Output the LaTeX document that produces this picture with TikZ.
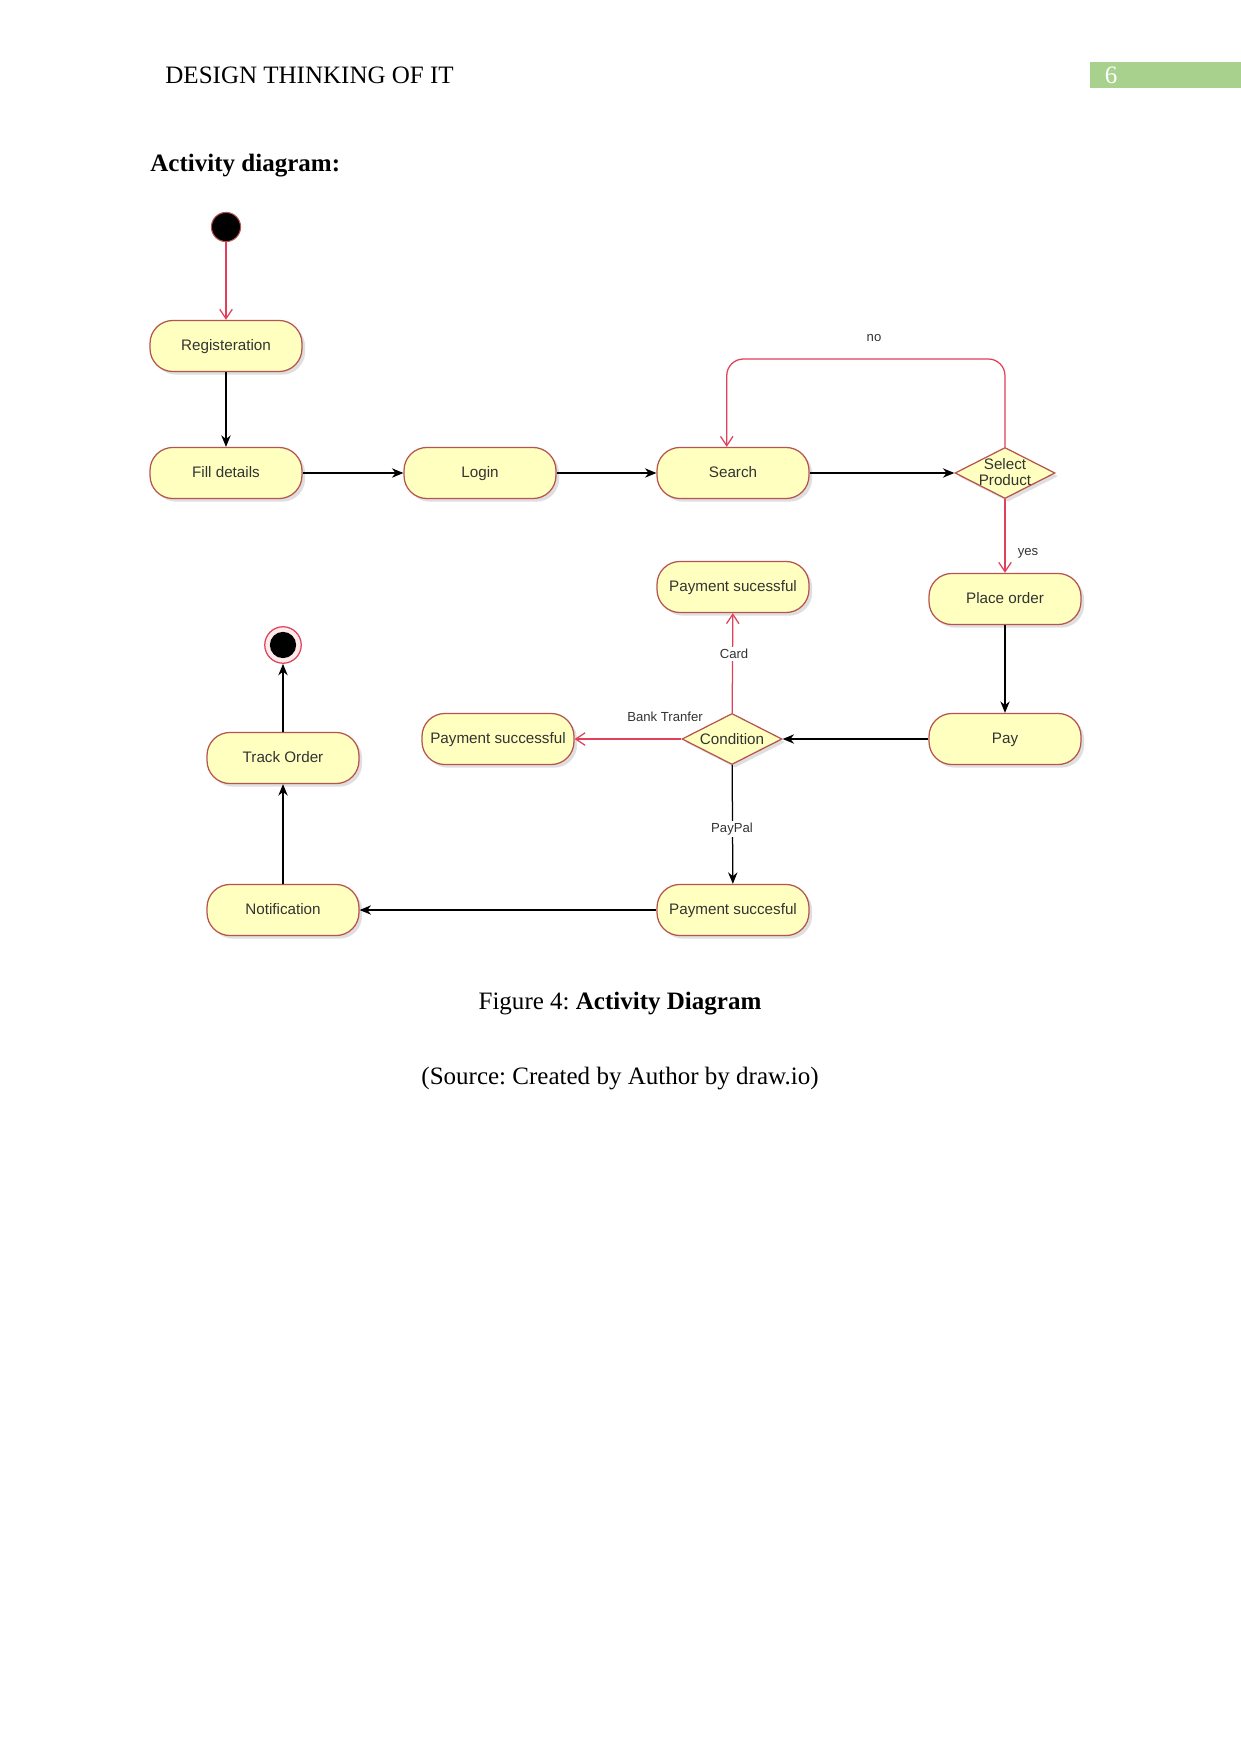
\documentclass[tikz,border=0pt]{standalone}
\usepackage{fontspec}
\setmainfont{Liberation Serif}
\newfontfamily\diafont{Liberation Sans}
\usetikzlibrary{shapes.geometric,arrows.meta,shadows}
\definecolor{actfill}{HTML}{FFFFC0}
\definecolor{actdraw}{HTML}{B85450}
\definecolor{redline}{HTML}{E0405A}
\definecolor{hdrgreen}{HTML}{A9D18E}
\definecolor{txt}{HTML}{333333}
\frenchspacing
\begin{document}
\begin{tikzpicture}[x=0.4797pt,y=-0.4797pt,
  shd/.style={drop shadow={shadow xshift=1.5pt, shadow yshift=-1.5pt, opacity=0.25, fill=gray}},
  act/.style={draw=actdraw, fill=actfill, rounded corners=11pt, minimum width=72.9pt,
    minimum height=24.5pt, font=\diafont\fontsize{7.3}{8.5}\selectfont, text=txt,
    text height=5.4pt, text depth=1.5pt,
    line width=0.6pt, shd},
  dec/.style={diamond, draw=actdraw, fill=actfill, minimum width=48pt, minimum height=24.5pt,
    inner sep=0pt, aspect=2, font=\diafont\fontsize{7.3}{8.3}\selectfont, text=txt,
    line width=0.6pt, shd},
  blk/.style={draw=black, line width=0.6pt, -{Stealth[length=5.5pt,width=4.5pt]}},
  redarr/.style={draw=redline, line width=0.6pt, -{Straight Barb[length=4.5pt,width=6pt]}},
  lbl/.style={fill=white, font=\diafont\fontsize{6.3}{7}\selectfont, text=txt, inner sep=1pt},
  startnode/.style={circle, fill=black, draw=actdraw, line width=0.5pt, minimum size=14pt, inner sep=0pt},
  endnode/.style={circle, fill=red!8, draw=redline, line width=0.6pt, minimum size=17.5pt, inner sep=0pt,
    path picture={\fill[black] (path picture bounding box.center) circle (6.3pt);}}
]
\useasboundingbox (0,0) rectangle (1241,1754);
\fill[white] (0,0) rectangle (1241,1754);

% page header
\node[anchor=west, font=\fontsize{12}{14}\selectfont, inner sep=0pt] (hdr) at (165,75) {DESIGN THINKING OF IT};
\node[anchor=north west, fill=hdrgreen, minimum width=72.4pt, minimum height=12.5pt, inner sep=0pt] (pgbox) at (1090,62) {};
\node[text=white, font=\fontsize{12}{14}\selectfont, inner sep=0pt] (pgnum) at (1111,75) {6};
\node[anchor=west, font=\bfseries\fontsize{12}{14}\selectfont, inner sep=0pt] (title) at (150,166) {Activity diagram:};

% nodes
\node[startnode] (start) at (226,227) {};
\node[act] (reg) at (226,346) {Registeration};
\node[act] (fill) at (226,473) {Fill details};
\node[act] (login) at (480,473) {Login};
\node[act] (search) at (733,473) {Search};
\node[dec] (sp) at (1005,473) {\smash{\makebox[0pt]{\raisebox{-2.2pt}{\begin{tabular}{@{}c@{}}Select\\[-0.5pt]Product\end{tabular}}}}};
\node[act] (place) at (1005,599) {Place order};
\node[act] (pay) at (1005,739) {Pay};
\node[dec] (cond) at (732,739) {\smash{\makebox[0pt]{\raisebox{-2.4pt}{Condition}}}};
\node[act] (pcard) at (733,587) {Payment sucessful};
\node[act] (pbank) at (498,739) {Payment successful};
\node[act] (ppal) at (733,910) {Payment succesful};
\node[act] (notif) at (283,910) {Notification};
\node[act] (track) at (283,758) {Track Order};
\node[endnode] (end) at (283,645) {};

% connectors
\draw[redarr] (start) -- (reg);
\draw[blk] (reg) -- (fill);
\draw[blk] (fill) -- (login);
\draw[blk] (login) -- (search);
\draw[blk] (search) -- (sp);
\coordinate (nl) at (866,359);
\draw[redarr, rounded corners=8pt] (sp.north) |- (nl) -| ([xshift=-3pt]search.north);
\node[lbl] (nolbl) at (874,338) {no};
\draw[redarr] (sp) -- (place);
\node[lbl] (yeslbl) at (1028,553) {yes};
\draw[blk] (place) -- (pay);
\draw[blk] (pay) -- (cond);
\draw[redarr] (cond) -- (pcard);
\node[lbl] (cardlbl) at (734,654) {Card};
\draw[redarr] (cond) -- (pbank);
\node[lbl] (banklbl) at (665,717) {Bank Tranfer};
\draw[blk] (cond) -- (ppal);
\node[lbl] (pplbl) at (732,829) {PayPal};
\draw[blk] (ppal) -- (notif);
\draw[blk] (notif) -- (track);
\draw[blk] (track) -- (end);

% caption
\node[font=\fontsize{12}{14}\selectfont] (cap) at (620,1004) {Figure 4: \textbf{Activity Diagram}};
\node[font=\fontsize{12}{14}\selectfont] (src) at (620,1079) {(Source: Created by Author by draw.io)};
\end{tikzpicture}
\end{document}
